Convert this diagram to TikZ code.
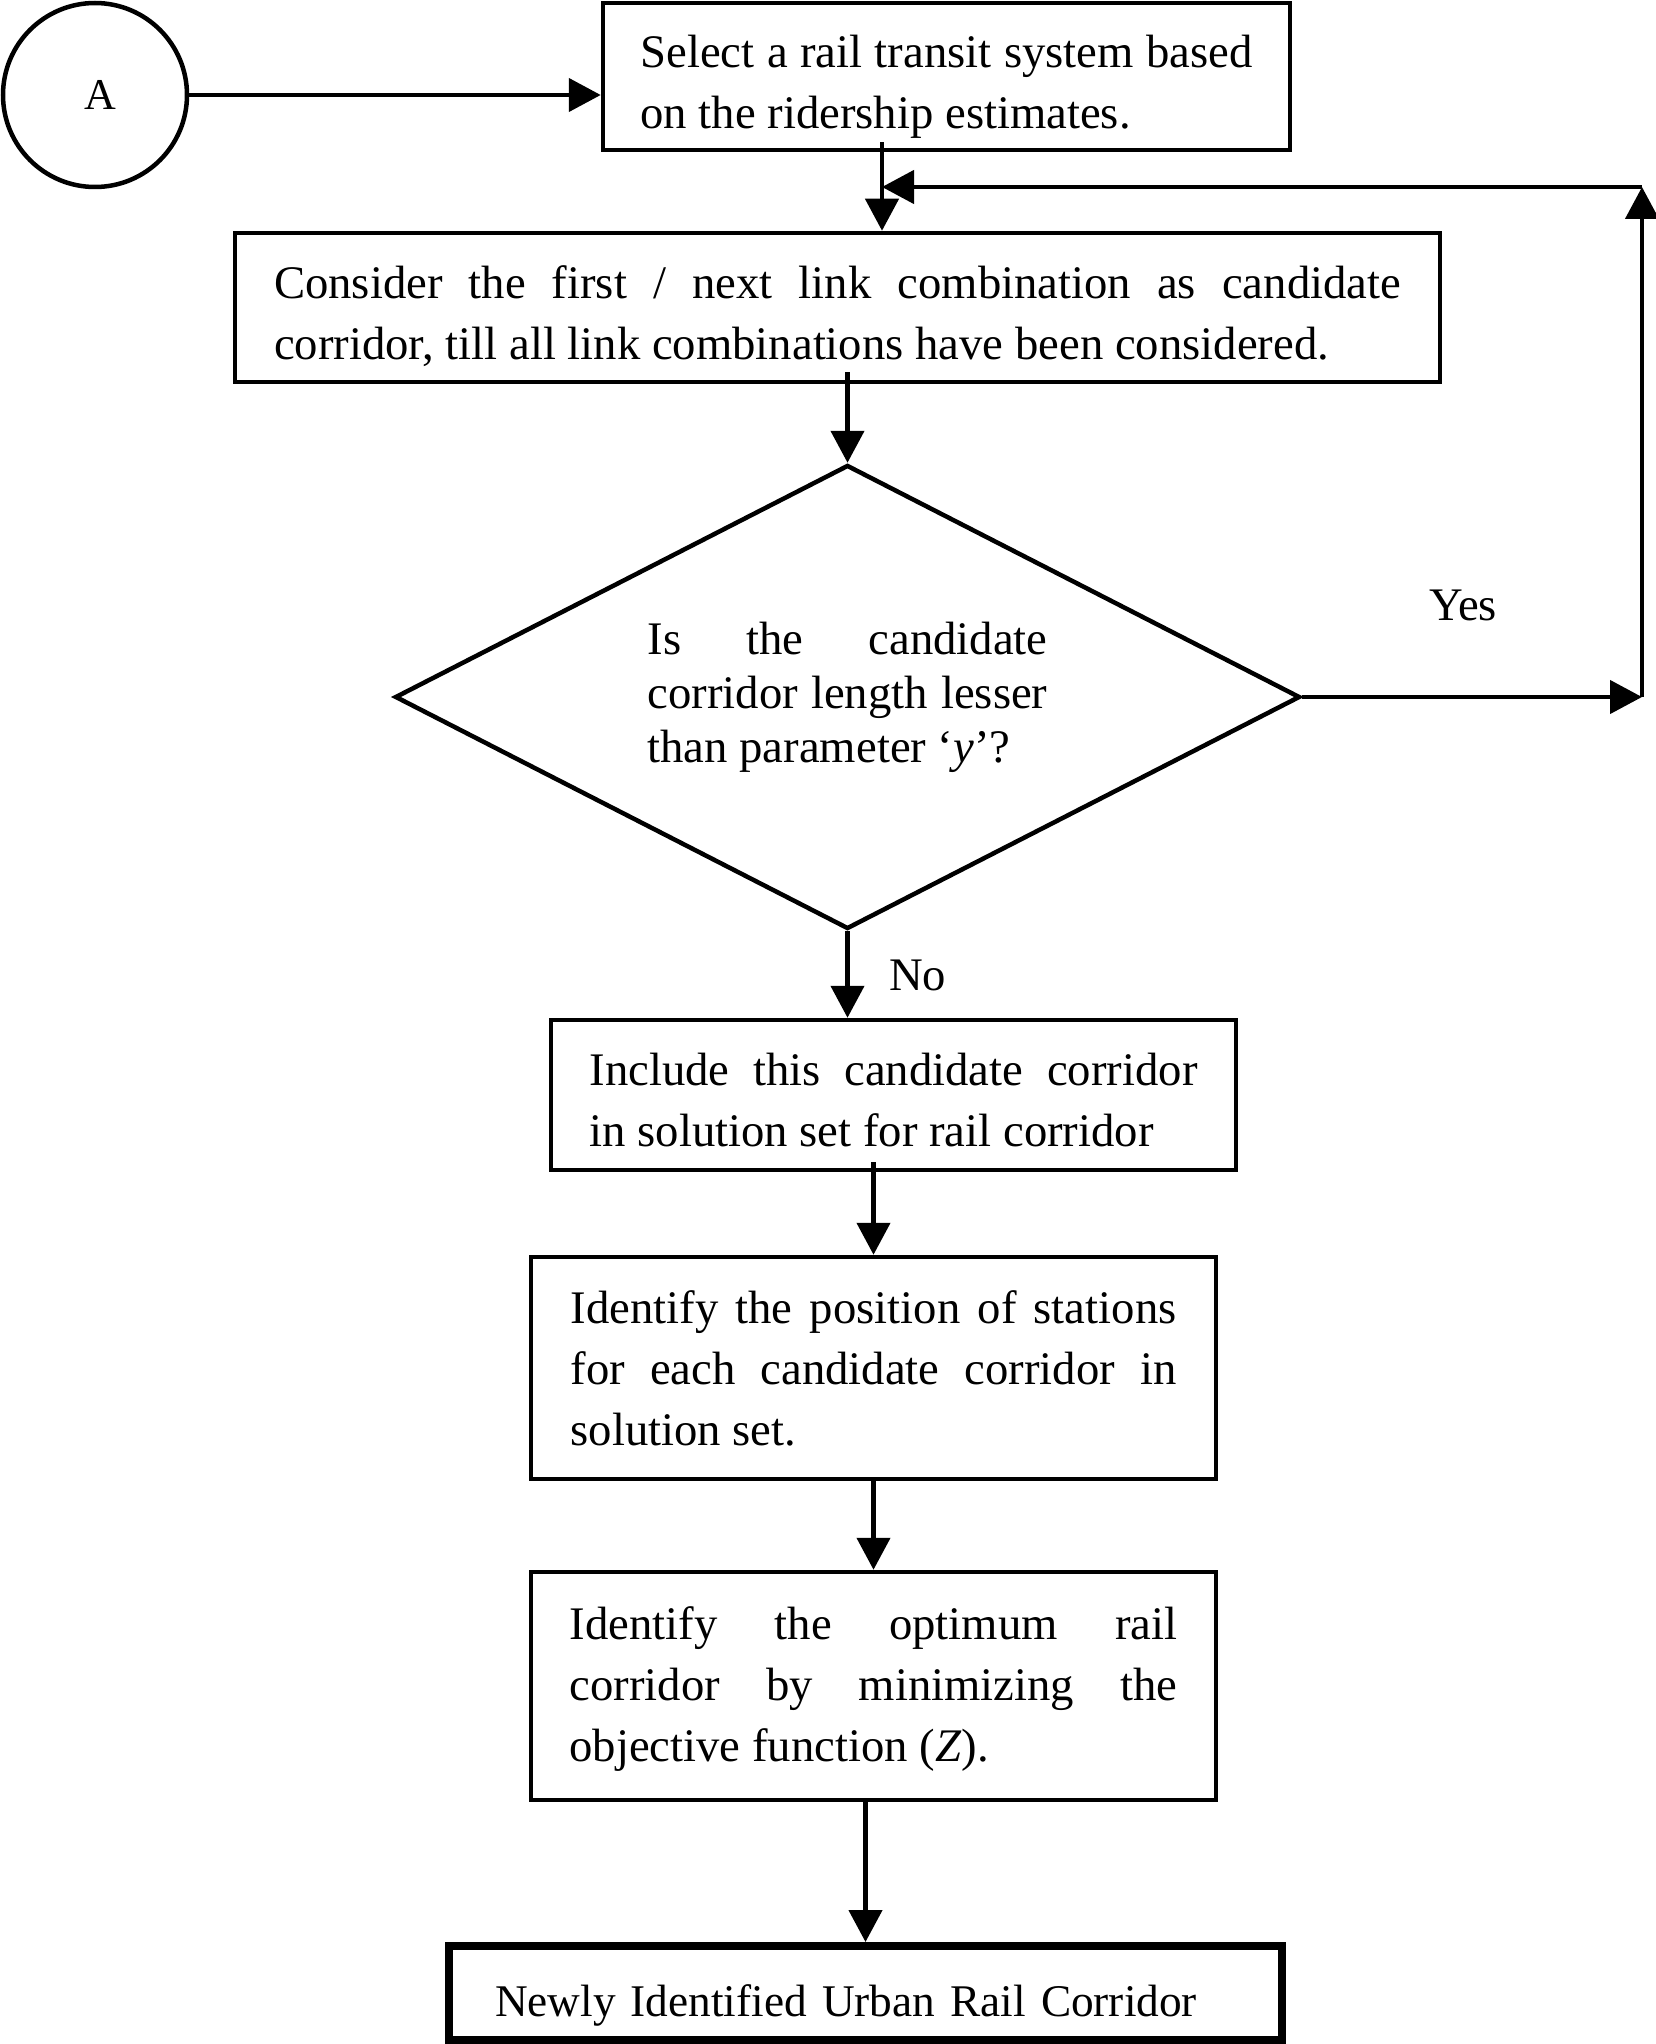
\documentclass[tikz,border=0pt]{standalone}
\usepackage{fontspec}
\setmainfont{Liberation Serif}
\usetikzlibrary{shapes.geometric,arrows.meta}
\begin{document}
\begin{tikzpicture}[x=1pt,y=-1pt,
  txt/.style={execute at begin node={\tolerance=10000\hyphenpenalty=10000\hbadness=10000}},
  box/.style={draw, line width=4.5pt, rectangle, inner sep=0pt},
  tx/.style={inner sep=0pt, align=justify, txt, font=\fontsize{46.7pt}{61pt}\selectfont},
  arr/.style={line width=4.5pt, -{Triangle[length=32pt,width=33pt]}},
  lbl/.style={font=\fontsize{46.7pt}{56pt}\selectfont, inner sep=0pt}]
\useasboundingbox (0,0) rectangle (1655,2044);

\node[circle, draw, line width=4.5pt, minimum size=184pt, inner sep=0pt] (A) at (95,95) {};
\node[font=\fontsize{44pt}{50pt}\selectfont, inner sep=0pt] (Atext) at (100,95) {A};

\node[box, minimum width=687pt, minimum height=147pt] (b1) at (946.5,76.5) {};
\node[tx, text width=612pt] (t1) at (946.5,86.5)
  {Select a rail transit system based\linebreak on the ridership estimates.};

\node[box, minimum width=1205pt, minimum height=149pt] (b2) at (837.5,307.5) {};
\node[tx, text width=1127pt] (t2) at (837.5,316.5)
  {Consider the first / next link combination as candidate\linebreak corridor, till all link combinations have been considered.};

\node[diamond, draw, line width=4.5pt, inner sep=0pt, shape aspect=1.95,
  minimum width=905pt, minimum height=464pt, text width=400pt, align=justify, txt,
  font=\fontsize{46.7pt}{54pt}\selectfont] (d) at (847.5,697)
  {Is the candidate\linebreak corridor length lesser\linebreak than parameter `\textit{y}'?};

\node[box, minimum width=685pt, minimum height=150pt] (b3) at (893.5,1095) {};
\node[tx, text width=608pt] (t3) at (893.5,1100)
  {Include this candidate corridor\linebreak in solution set for rail corridor};

\node[box, minimum width=685pt, minimum height=222pt] (b4) at (873.5,1368) {};
\node[tx, text width=606pt] (t4) at (873.5,1368)
  {Identify the position of stations\linebreak for each candidate corridor in\linebreak solution set.};

\node[box, minimum width=685pt, minimum height=228pt] (b5) at (873.5,1686) {};
\node[tx, text width=608pt] (t5) at (873.5,1689)
  {Identify the optimum rail\linebreak corridor by minimizing the\linebreak objective function (\textit{Z}).};

\node[box, line width=8pt, minimum width=833pt, minimum height=94pt] (b6) at (865.5,1993) {};
\node[tx, text width=741pt, align=left, font=\fontsize{45.3pt}{56pt}\selectfont] (t6) at (865.5,2005)
  {Newly Identified Urban Rail Corridor};

\node[lbl] (yes) at (1463,605) {Yes};
\node[lbl, anchor=west] (no) at (889,975) {No};

\coordinate (j) at (882,187);
\coordinate (r) at (1642,187);

\draw[arr] (A) -- (A -| b1.west);
\draw[arr] ([yshift=10pt]b1.south -| j) -- (b2.north -| j);
\draw[arr] ([yshift=12pt]b2.south -| d.north) -- (d.north);
\draw[arr] (d.south) -- (d.south |- b3.north);
\draw[arr] ([yshift=10pt]b3.south -| b4.north) -- (b4.north);
\draw[arr] (b4.south -| b5.north) -- (b5.north);
\draw[arr] (b5.south -| b6.north) -- (b6.north);
\draw[arr] (d.east) -- (d.east -| r);
\draw[arr] (d.east -| r) -- (r);
\draw[arr] (r) -- (j);
\end{tikzpicture}
\end{document}
